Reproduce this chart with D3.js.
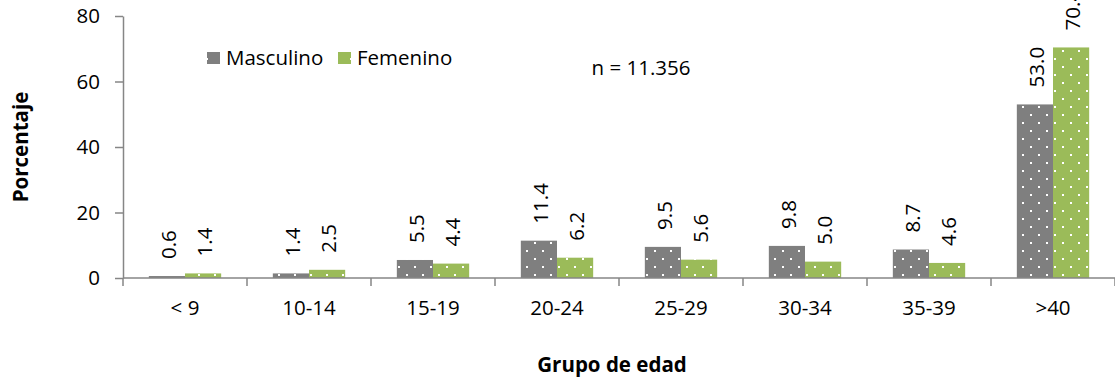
<!DOCTYPE html>
<html><head><meta charset="utf-8">
<script src="https://cdn.jsdelivr.net/npm/d3@7"></script>
<style>
html,body{margin:0;padding:0;background:#fff;}
svg{display:block;font-family:"Open Sans",sans-serif;}
</style></head>
<body><svg id="c" width="1115" height="381"></svg>
<script>
const categories = ["< 9","10-14","15-19","20-24","25-29","30-34","35-39",">40"];
const masculino = [0.6,1.4,5.5,11.4,9.5,9.8,8.7,53.0];
const femenino = [1.4,2.5,4.4,6.2,5.6,5.0,4.6,70.4];
const seriesNames = ["Masculino","Femenino"];
const yTicks = [0,20,40,60,80];

const colors = ["#7f7f7f","#9bbb59"];
const FS = 20.5;
const svg = d3.select("#c");
const m = {left:123, right:0, top:16, bottom:103};
const W = 1115, H = 381;
const x = d3.scaleBand().domain(categories).range([m.left, W - m.right]).paddingInner(0).paddingOuter(0);
const y = d3.scaleLinear().domain([0,80]).range([H - m.bottom, m.top]);
const inner = d3.scaleBand().domain(seriesNames).range([0, x.bandwidth()]).paddingInner(0).paddingOuter(0.714);

const defs = svg.append("defs");
colors.forEach((c,i)=>{
  const p = defs.append("pattern").attr("id","pat"+i).attr("patternUnits","userSpaceOnUse")
    .attr("width",16).attr("height",16).attr("x",0).attr("y",0);
  p.append("rect").attr("width",16).attr("height",16).attr("fill",c);
  p.append("rect").attr("x",6).attr("y",2).attr("width",2).attr("height",2).attr("fill","#fff");
  p.append("rect").attr("x",14).attr("y",10).attr("width",2).attr("height",2).attr("fill","#fff");
});

const data = categories.map((c,i)=>({cat:c, vals:[masculino[i], femenino[i]]}));

// bars
const g = svg.append("g");
data.forEach(d=>{
  d.vals.forEach((v,si)=>{
    const bx = x(d.cat) + inner(seriesNames[si]);
    g.append("rect").attr("x",bx).attr("y",y(v)).attr("width",inner.bandwidth())
      .attr("height",y(0)-y(v)).attr("fill","url(#pat"+si+")");
    const cx = bx + inner.bandwidth()/2 + 1;
    const ty = y(v) - 17;
    g.append("text").attr("transform",`translate(${cx},${ty}) rotate(-90)`)
      .attr("dominant-baseline","central").attr("text-anchor","start")
      .attr("font-size",FS).attr("fill","#000").text(d3.format(".1f")(v));
  });
});

// y axis
const yAxis = svg.append("g").attr("transform",`translate(${m.left},0)`)
  .call(d3.axisLeft(y).tickValues(yTicks).tickSize(8).tickPadding(15).tickSizeOuter(0));
yAxis.select(".domain").attr("stroke","#868686").attr("stroke-width",1.5);
yAxis.selectAll(".tick line").attr("stroke","#868686").attr("stroke-width",1.5);
yAxis.selectAll(".tick text").attr("font-size",FS).attr("fill","#000").attr("font-family","Open Sans");

// x axis
const xg = svg.append("g").attr("transform",`translate(0,${y(0)})`);
xg.append("line").attr("x1",m.left).attr("x2",W).attr("y1",0).attr("y2",0).attr("stroke","#868686").attr("stroke-width",1.5);
const bounds = categories.map(c=>x(c)).concat([x(categories[categories.length-1])+x.bandwidth()]);
xg.selectAll("line.tk").data(bounds).enter().append("line").attr("class","tk")
  .attr("x1",d=>d).attr("x2",d=>d).attr("y1",0).attr("y2",8).attr("stroke","#868686").attr("stroke-width",1.5);
xg.selectAll("text.lbl").data(categories).enter().append("text").attr("class","lbl")
  .attr("x",d=>x(d)+x.bandwidth()/2).attr("y",37).attr("text-anchor","middle")
  .attr("font-size",FS).attr("fill","#000").text(d=>d);

// axis titles
svg.append("text").attr("transform",`translate(28,${(y(0)+y(80))/2}) rotate(-90)`)
  .attr("text-anchor","middle").attr("font-size",FS).attr("font-weight","bold").text("Porcentaje");
svg.append("text").attr("x",612).attr("y",372).attr("text-anchor","middle")
  .attr("font-size",FS).attr("font-weight","bold").text("Grupo de edad");

// n label
svg.append("text").attr("x",641).attr("y",75).attr("text-anchor","middle").attr("font-size",FS).text("n = 11.356");

// legend
const legX = [207, 338];
seriesNames.forEach((s,i)=>{
  svg.append("rect").attr("x",legX[i]).attr("y",52).attr("width",13).attr("height",12).attr("fill","url(#pat"+i+")");
  svg.append("text").attr("x",legX[i]+19).attr("y",64.5).attr("font-size",FS).attr("fill","#000").text(s);
});
</script></body></html>
